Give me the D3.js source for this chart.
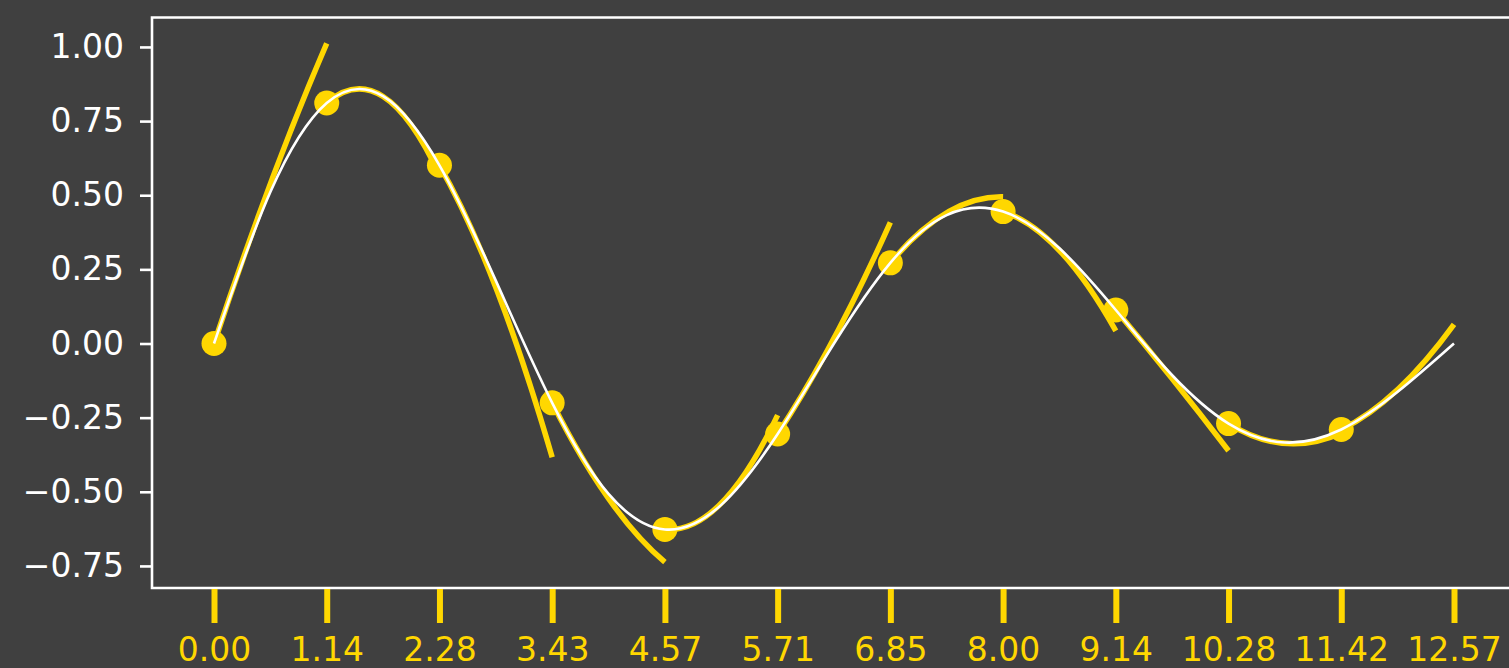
<!DOCTYPE html>
<html>
<head>
<meta charset="utf-8">
<script src="https://cdn.jsdelivr.net/npm/d3@7"></script>
<style>
  html, body { margin: 0; padding: 0; background: #404040; }
  svg { display: block; }
  text { font-family: "DejaVu Sans", sans-serif; }
</style>
</head>
<body>
<svg id="chart" width="1509" height="668"></svg>
<script>
// ---- data ----
const xValues = [0, 1.1424, 2.2848, 3.4272, 4.5696, 5.7120, 6.8544, 7.9968, 9.1392, 10.2816, 11.4240, 12.5664];
const tickLabels = ["0.00", "1.14", "2.28", "3.43", "4.57", "5.71", "6.85", "8.00", "9.14", "10.28", "11.42", "12.57"];
// sampled points (yellow dots), one per tick except the last
const pointY = [0.000, 0.811, 0.601, -0.200, -0.627, -0.305, 0.272, 0.445, 0.113, -0.270, -0.290];
// local slope and half-curvature at each point (yellow local approximations)
const pointSlope = [1.000, 0.289, -0.581, -0.661, -0.027, 0.506, 0.397, -0.108, -0.396, -0.207, 0.162];
const pointHalfCurv = [-0.100, -0.439, -0.246, 0.167, 0.319, 0.104, -0.177, -0.214, -0.017, 0.157, 0.130];
// smooth white curve samples
const curveX = [0, 0.5712, 1.1424, 1.7136, 2.2848, 2.856, 3.4272, 3.9984, 4.5696, 5.1408, 5.7120, 6.2832,
                6.8544, 7.4256, 7.9968, 8.568, 9.1392, 9.7104, 10.2816, 10.8528, 11.4240, 11.9952, 12.5664];
const curveY = [0, 0.511, 0.811, 0.834, 0.601, 0.212, -0.200, -0.507, -0.627, -0.544, -0.305, 0.000,
                0.272, 0.433, 0.445, 0.321, 0.113, -0.107, -0.270, -0.334, -0.290, -0.163, 0.000];
const yTicks = [-0.75, -0.50, -0.25, 0.00, 0.25, 0.50, 0.75, 1.00];

// ---- layout ----
const svg = d3.select("#chart");
const mLeft = 152, mRight = 1516, mTop = 17.5, mBottom = 588;
const gold = "#FFD700";

svg.append("rect").attr("width", 1509).attr("height", 668).attr("fill", "#404040");

const x = d3.scaleLinear().domain([-0.6283, 13.1947]).range([mLeft, mRight]);
const y = d3.scaleLinear().domain([-0.8244, 1.0993]).range([mBottom, mTop]);

// yellow local quadratic pieces
const h = xValues[1] - xValues[0];
const segG = svg.append("g");
pointY.forEach((f, i) => {
  const x0 = xValues[i], x1 = xValues[i + 1];
  const s = pointSlope[i], c = pointHalfCurv[i];
  const ctrlY = f + s * h / 2;
  const endY = f + s * h + c * h * h;
  const p = d3.path();
  p.moveTo(x(x0), y(f));
  p.quadraticCurveTo(x((x0 + x1) / 2), y(ctrlY), x(x1), y(endY));
  segG.append("path").attr("d", p.toString())
    .attr("fill", "none").attr("stroke", gold).attr("stroke-width", 5.5);
});

// dots
svg.append("g").selectAll("circle").data(pointY).join("circle")
  .attr("cx", (d, i) => x(xValues[i])).attr("cy", d => y(d))
  .attr("r", 12.5).attr("fill", gold);

// white smooth curve
const line = d3.line().x((d, i) => x(curveX[i])).y(d => y(d)).curve(d3.curveNatural);
svg.append("path").datum(curveY).attr("d", line)
  .attr("fill", "none").attr("stroke", "#ffffff").attr("stroke-width", 2.6);

// spines
svg.append("path")
  .attr("d", `M${mRight},${mTop}H${mLeft}V${mBottom}H${mRight}`)
  .attr("fill", "none").attr("stroke", "#ffffff").attr("stroke-width", 2.6);

// x axis
const xAxis = d3.axisBottom(x).tickValues(xValues)
  .tickFormat((d, i) => tickLabels[i]).tickSize(34).tickSizeOuter(0).tickPadding(14.5);
const gx = svg.append("g").attr("transform", `translate(0,${mBottom + 1})`).call(xAxis);
gx.select(".domain").remove();
gx.selectAll(".tick line").attr("stroke", gold).attr("stroke-width", 6);
gx.selectAll(".tick text").attr("fill", gold).attr("font-size", 33)
  .attr("font-family", "DejaVu Sans, sans-serif");

// y axis
const yAxis = d3.axisLeft(y).tickValues(yTicks).tickFormat(d3.format(".2f"))
  .tickSize(12).tickSizeOuter(0).tickPadding(16);
const gy = svg.append("g").attr("transform", `translate(${mLeft},0)`).call(yAxis);
gy.select(".domain").remove();
gy.selectAll(".tick line").attr("stroke", "#ffffff").attr("stroke-width", 2.6);
gy.selectAll(".tick text").attr("fill", "#ffffff").attr("font-size", 33)
  .attr("font-family", "DejaVu Sans, sans-serif");
</script>
</body>
</html>
